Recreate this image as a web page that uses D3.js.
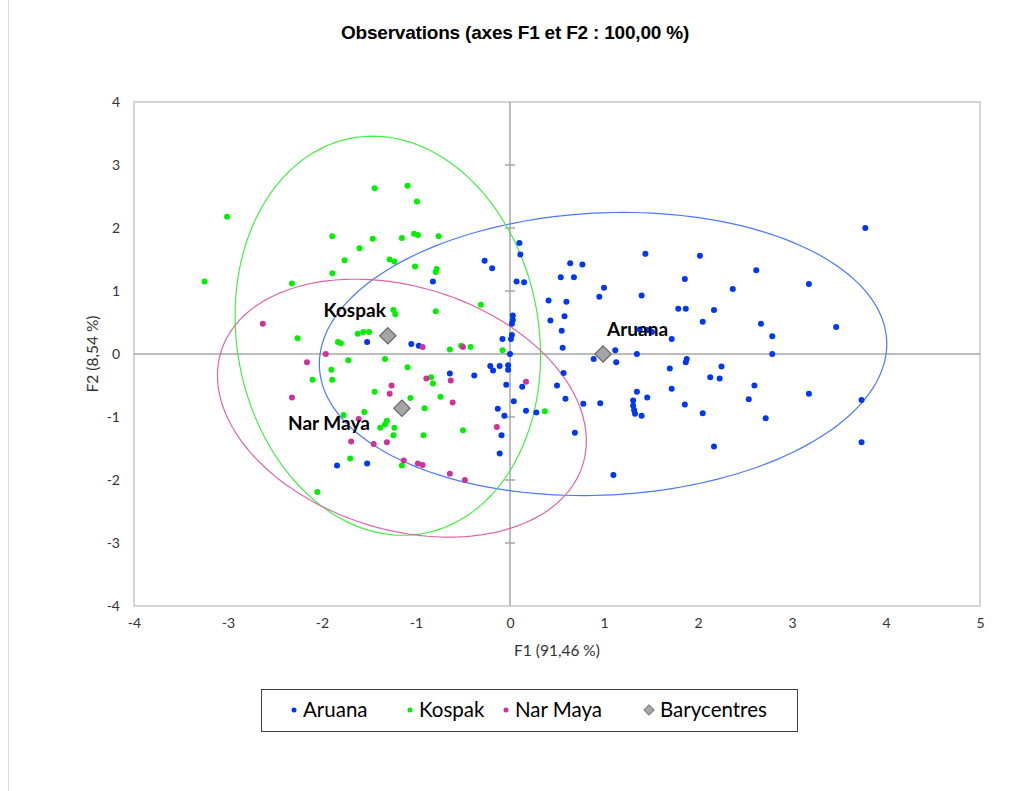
<!DOCTYPE html>
<html>
<head>
<meta charset="utf-8">
<script src="https://cdn.jsdelivr.net/npm/d3@7/dist/d3.min.js"></script>
<style>
  body { margin: 0; background: #fff; }
  svg { display: block; font-family: Lato, "Open Sans", sans-serif; }
</style>
</head>
<body>
<svg id="chart" width="1012" height="791"></svg>
<script>
// Observations (F1, F2) par groupe
const aruana = [
  [-0.82, 1.15], [-0.27, 1.48], [-0.19, 1.36], [0.10, 1.76], [0.11, 1.58], [0.07, 1.15],
  [0.15, 1.14], [0.03, 0.61], [0.03, 0.54], [0.02, 0.48], [0.02, 0.30], [0.01, 0.24],
  [-0.08, 0.24], [-1.52, 0.19], [-1.05, 0.16], [-0.97, 0.13], [0.00, 0.00], [-0.64, -0.31],
  [-0.38, -0.34], [-0.21, -0.19], [-0.18, -0.26], [-0.11, -0.19], [-0.02, -0.18], [-0.02, -0.25],
  [-0.13, -0.87], [-0.06, -0.98], [-0.09, -1.29], [-0.11, -1.58], [-1.84, -1.77], [-1.52, -1.74],
  [0.17, -0.90], [0.28, -0.93], [0.64, 1.44], [0.77, 1.42], [0.54, 1.22], [0.68, 1.22],
  [1.00, 1.05], [0.95, 0.91], [0.41, 0.85], [0.60, 0.83], [0.43, 0.53], [0.58, 0.60],
  [0.55, 0.37], [0.56, 0.10], [0.89, -0.08], [1.12, 0.06], [1.13, -0.13], [1.35, 0.00],
  [0.57, -0.30], [0.50, -0.50], [-0.04, -0.49], [0.13, -0.52], [0.59, -0.71], [0.78, -0.79],
  [0.96, -0.78], [0.04, -0.75], [0.69, -1.25], [1.44, 1.59], [2.02, 1.56], [1.40, 0.93],
  [1.86, 1.19], [2.62, 1.33], [3.18, 1.11], [2.37, 1.03], [1.79, 0.72], [1.87, 0.72],
  [2.17, 0.70], [2.05, 0.51], [2.67, 0.48], [2.79, 0.28], [3.47, 0.43], [1.38, 0.39],
  [1.46, 0.38], [1.51, 0.35], [1.72, 0.24], [2.79, 0.00], [1.88, -0.08], [1.87, -0.13],
  [1.70, -0.23], [2.25, -0.20], [2.13, -0.37], [2.23, -0.39], [2.60, -0.50], [1.72, -0.55],
  [1.35, -0.60], [1.46, -0.69], [1.31, -0.74], [1.31, -0.82], [1.32, -0.89], [1.33, -0.95],
  [1.40, -0.98], [1.86, -0.80], [2.54, -0.72], [2.05, -0.94], [2.72, -1.02], [3.18, -0.63],
  [3.74, -0.73], [3.74, -1.40], [2.17, -1.47], [1.10, -1.92], [3.78, 2.00]
];
const kospak = [
  [-1.44, 2.63], [-3.01, 2.18], [-1.89, 1.87], [-1.46, 1.83], [-1.60, 1.68], [-1.76, 1.49],
  [-1.89, 1.28], [-3.25, 1.15], [-2.32, 1.12], [-2.26, 0.25], [-1.83, 0.19], [-1.80, 0.17],
  [-1.62, 0.32], [-1.56, 0.35], [-1.50, 0.35], [-1.09, 2.67], [-0.99, 2.42], [-1.15, 1.84],
  [-1.02, 1.91], [-0.98, 1.89], [-0.76, 1.87], [-1.28, 1.50], [-1.23, 1.47], [-1.01, 1.39],
  [-0.78, 1.35], [-0.79, 1.30], [-0.31, 0.78], [-1.24, 0.70], [-1.22, 0.63], [-0.79, 0.68],
  [-0.64, 0.07], [-0.52, 0.13], [-0.42, 0.11], [-0.08, 0.06], [-1.72, -0.10], [-1.33, -0.08],
  [-1.09, -0.21], [-1.90, -0.25], [-2.10, -0.41], [-1.89, -0.41], [-0.84, -0.37], [-0.82, -0.47],
  [-1.44, -0.60], [-1.06, -0.70], [-0.74, -0.68], [-0.91, -0.86], [-1.55, -0.92], [-1.77, -0.97],
  [-1.31, -1.06], [-1.33, -1.12], [-1.38, -1.17], [-1.23, -1.17], [-1.24, -1.29], [-0.92, -1.29],
  [-0.50, -1.21], [-1.70, -1.66], [-1.15, -1.77], [-2.05, -2.19], [0.37, -0.91]
];
const narMaya = [
  [-2.63, 0.48], [-0.93, 0.11], [-0.50, 0.11], [-1.96, 0.00], [-2.16, -0.13], [-0.89, -0.39],
  [-0.63, -0.42], [-1.26, -0.50], [-1.28, -0.63], [-0.61, -0.77], [-0.14, -1.16], [-1.61, -1.03],
  [-1.69, -1.39], [-1.45, -1.43], [-1.31, -1.40], [-1.13, -1.69], [-0.98, -1.74], [-0.93, -1.76],
  [-0.64, -1.90], [-0.48, -2.00], [-2.32, -0.69], [0.17, -0.44]
];

const groupNames = ["Aruana", "Kospak", "Nar Maya"];
const groupColors = ["#0038f0", "#00ee00", "#cc3399"];
const ellipseColors = ["#4a78ff", "#44ee44", "#dd66aa"];
// Barycentres (F1, F2)
const barycentres = [[0.99, 0.00], [-1.30, 0.29], [-1.15, -0.86]];
// Ellipses de confiance : [var F1, var F2, cov F1F2]
const ellipseCov = [[9.11, 5.05, 0.48], [2.64, 10.03, -0.51], [3.85, 4.19, -1.02]];

const xTicks = [-4, -3, -2, -1, 0, 1, 2, 3, 4, 5];
const yTicks = [-4, -3, -2, -1, 0, 1, 2, 3, 4];

const svg = d3.select("#chart");

const x = d3.scaleLinear().domain([-4, 5]).range([134, 980]);
const y = d3.scaleLinear().domain([-4, 4]).range([606, 102]);

// Bordure du graphique
svg.append("rect")
  .attr("x", 8.5).attr("y", -2).attr("width", 1020).attr("height", 800)
  .attr("fill", "none").attr("stroke", "#d9d9d9");

// Titre
svg.append("text")
  .attr("x", 515).attr("y", 39)
  .attr("text-anchor", "middle")
  .style("font-family", "'Liberation Sans', Arial, sans-serif")
  .style("font-weight", "bold")
  .style("font-size", "19px")
  .style("letter-spacing", "-0.2px")
  .attr("fill", "#000")
  .text("Observations (axes F1 et F2 : 100,00 %)");

// Zone de tracé
svg.append("rect")
  .attr("x", x(-4)).attr("y", y(4))
  .attr("width", x(5) - x(-4)).attr("height", y(-4) - y(4))
  .attr("fill", "none").attr("stroke", "#c8c8c8").attr("stroke-width", 1.5);

// Etiquettes des axes
const axisLeft = d3.axisLeft(y).tickValues(yTicks).tickFormat(d => String(d)).tickSize(0).tickPadding(14);
const gy = svg.append("g").attr("transform", `translate(${x(-4)},0)`).call(axisLeft);
const axisBottom = d3.axisBottom(x).tickValues(xTicks).tickFormat(d => String(d)).tickSize(0).tickPadding(12);
const gx = svg.append("g").attr("transform", `translate(0,${y(-4)})`).call(axisBottom);
[gx, gy].forEach(g => {
  g.select(".domain").remove();
  g.selectAll("text")
    .style("font-family", "Lato, sans-serif")
    .style("font-size", "14px")
    .attr("fill", "#333");
});

// Axes centraux
svg.append("line")
  .attr("x1", x(-4)).attr("x2", x(5)).attr("y1", y(0)).attr("y2", y(0))
  .attr("stroke", "#a6a6a6").attr("stroke-width", 1.5);
svg.append("line")
  .attr("x1", x(0)).attr("x2", x(0)).attr("y1", y(4)).attr("y2", y(-4))
  .attr("stroke", "#a6a6a6").attr("stroke-width", 1.5);
svg.selectAll(".ytick")
  .data(yTicks.filter(t => t > -4 && t < 4))
  .enter().append("line")
  .attr("class", "ytick")
  .attr("x1", x(0) - 5).attr("x2", x(0) + 5)
  .attr("y1", d => y(d)).attr("y2", d => y(d))
  .attr("stroke", "#a6a6a6").attr("stroke-width", 1.5);

// Titres des axes
svg.append("text")
  .attr("x", (x(-4) + x(5)) / 2).attr("y", 656)
  .attr("text-anchor", "middle")
  .style("font-size", "15.5px").attr("fill", "#333")
  .text("F1 (91,46 %)");
svg.append("text")
  .attr("transform", `translate(98,${y(0)}) rotate(-90)`)
  .attr("text-anchor", "middle")
  .style("font-size", "15.5px").attr("fill", "#333")
  .text("F2 (8,54 %)");

// Ellipses
const line = d3.line().x(d => x(d[0])).y(d => y(d[1]));
const angles = d3.range(0, 2 * Math.PI + 0.001, Math.PI / 90);
ellipseCov.forEach((cov, i) => {
  const [sxx, syy, sxy] = cov;
  const l11 = Math.sqrt(sxx);
  const l21 = sxy / l11;
  const l22 = Math.sqrt(syy - l21 * l21);
  const c = barycentres[i];
  const pts = angles.map(t => [c[0] + l11 * Math.cos(t), c[1] + l21 * Math.cos(t) + l22 * Math.sin(t)]);
  svg.append("path")
    .attr("d", line(pts))
    .attr("fill", "none")
    .attr("stroke", ellipseColors[i])
    .attr("stroke-width", 1.2);
});

// Points
[aruana, kospak, narMaya].forEach((data, i) => {
  svg.append("g").selectAll("circle")
    .data(data)
    .enter().append("circle")
    .attr("cx", d => x(d[0]))
    .attr("cy", d => y(d[1]))
    .attr("r", 3)
    .attr("fill", groupColors[i]);
});

// Barycentres
const diamond = d3.symbol().type(d3.symbolDiamond2).size(170);
svg.append("g").selectAll("path")
  .data(barycentres)
  .enter().append("path")
  .attr("d", diamond)
  .attr("transform", d => `translate(${x(d[0])},${y(d[1])})`)
  .attr("fill", "#a5a5a5")
  .attr("stroke", "#666")
  .attr("stroke-width", 1.2);

// Etiquettes des barycentres
const labelOffsets = [[4, -18, "start"], [-2, -19, "end"], [-32, 22, "end"]];
barycentres.forEach((d, i) => {
  svg.append("text")
    .attr("x", x(d[0]) + labelOffsets[i][0])
    .attr("y", y(d[1]) + labelOffsets[i][1])
    .attr("text-anchor", labelOffsets[i][2])
    .style("font-weight", "bold")
    .style("font-size", "19px")
    .attr("fill", "#000")
    .text(groupNames[i]);
});

// Légende
const legend = svg.append("g");
legend.append("rect")
  .attr("x", 261.5).attr("y", 689.5).attr("width", 536).attr("height", 42)
  .attr("fill", "#fff").attr("stroke", "#404040");
const legendItems = groupNames.concat(["Barycentres"]);
const legendX = [294, 410, 506, 649];
legendItems.forEach((name, i) => {
  const lx = legendX[i];
  if (i < 3) {
    legend.append("circle").attr("cx", lx).attr("cy", 710).attr("r", 2.5).attr("fill", groupColors[i]);
  } else {
    legend.append("path")
      .attr("d", d3.symbol().type(d3.symbolDiamond2).size(70))
      .attr("transform", `translate(${lx},710)`)
      .attr("fill", "#a5a5a5").attr("stroke", "#666");
  }
  legend.append("text")
    .attr("x", lx + (i < 3 ? 9 : 11)).attr("y", 717)
    .style("font-size", "20.5px")
    .attr("fill", "#000")
    .text(name);
});
</script>
</body>
</html>
